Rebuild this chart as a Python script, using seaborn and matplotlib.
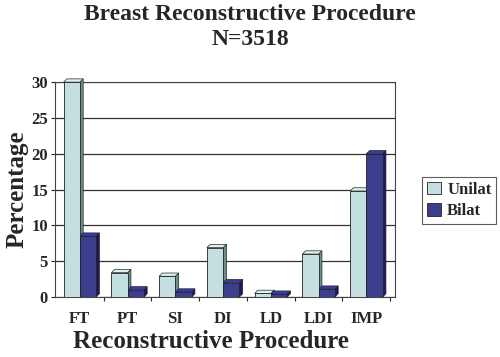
import matplotlib
matplotlib.use("Agg")
import matplotlib.pyplot as plt
import seaborn as sns
import pandas as pd
from matplotlib.patches import Polygon

categories = ["FT", "PT", "SI", "DI", "LD", "LDI", "IMP"]
unilat = [30.0, 3.4, 2.9, 6.9, 0.5, 6.0, 14.8]
bilat = [8.5, 1.0, 0.7, 2.0, 0.4, 1.1, 20.0]
series = ["Unilat", "Bilat"]
yticks = [0, 5, 10, 15, 20, 25, 30]

df = pd.DataFrame({
    "Procedure": categories * 2,
    "Percentage": unilat + bilat,
    "Type": ["Unilat"] * len(categories) + ["Bilat"] * len(categories),
})

sns.set_style("white")
plt.rcParams["font.family"] = ["Liberation Serif", "DejaVu Serif"]

fig = plt.figure(figsize=(5, 3.57), dpi=100)
ax = fig.add_axes([0.11, 0.168, 0.68, 0.602])

colors = {"Unilat": "#bfe3e3", "Bilat": "#2f2f9c"}
sns.barplot(data=df, x="Procedure", y="Percentage", hue="Type", hue_order=series,
            palette=colors, width=0.68, edgecolor="#222222", linewidth=0.6,
            ax=ax, legend=True, zorder=3)

# pseudo-3D side faces
dx, dy = 0.07, 0.45
side_col = {"Unilat": "#6f8f8f", "Bilat": "#1a1a60"}
top_col = {"Unilat": "#dff2f2", "Bilat": "#3a3ab0"}
for cont, name in zip(ax.containers, series):
    for p in cont.patches:
        x0 = p.get_x(); w = p.get_width(); h = p.get_height()
        ax.add_patch(Polygon([[x0 + w, 0], [x0 + w + dx, dy], [x0 + w + dx, h + dy], [x0 + w, h]],
                             closed=True, facecolor=side_col[name], edgecolor="#222222", lw=0.5,
                             zorder=2.9, clip_on=False))
        ax.add_patch(Polygon([[x0, h], [x0 + dx, h + dy], [x0 + w + dx, h + dy], [x0 + w, h]],
                             closed=True, facecolor=top_col[name], edgecolor="#222222", lw=0.5,
                             zorder=2.9, clip_on=False))

ax.set_ylim(0, 30)
ax.set_xlim(-0.52, 6.6)
ax.set_yticks(yticks)
ax.set_yticklabels([str(t) for t in yticks], fontsize=12, fontweight="bold")
ax.set_xticks(range(len(categories)))
ax.set_xticklabels(categories, fontsize=12, fontweight="bold")
ax.set_xticks([i + 0.5 for i in range(len(categories))], minor=True)
ax.tick_params(axis="x", which="major", length=0, pad=10)
ax.tick_params(axis="x", which="minor", length=3, width=0.8, bottom=True)
ax.tick_params(axis="y", length=3, width=0.8, pad=2, left=True)
ax.grid(axis="y", color="#333333", linewidth=0.9, zorder=0)
ax.set_axisbelow(True)
for s in ax.spines.values():
    s.set_color("#444444")
    s.set_linewidth(0.8)

ax.set_xlabel("Reconstructive Procedure", fontsize=18, fontweight="bold")
ax.xaxis.set_label_coords(0.46, -0.155)
ax.set_ylabel("Percentage", fontsize=18, fontweight="bold", labelpad=2)

fig.text(0.5, 0.96, "Breast Reconstructive Procedure", ha="center", va="center",
         fontsize=17, fontweight="bold")
fig.text(0.5, 0.888, "N=3518", ha="center", va="center", fontsize=17, fontweight="bold")

leg = ax.legend(loc="center left", bbox_to_anchor=(1.08, 0.45), frameon=True, fancybox=False,
                edgecolor="#333333", prop={"weight": "bold", "size": 12},
                handlelength=0.8, handleheight=0.8, borderpad=0.3, labelspacing=0.3,
                handletextpad=0.4, borderaxespad=0)
leg.get_frame().set_linewidth(0.8)

fig.savefig("out.png", dpi=100)
